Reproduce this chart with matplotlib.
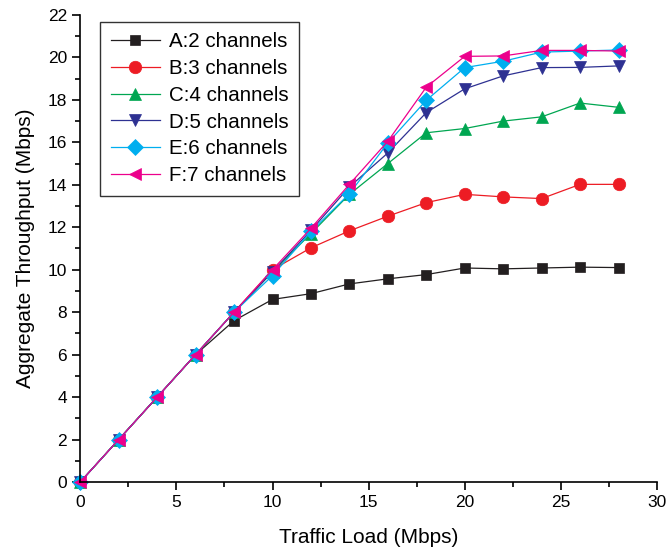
import matplotlib
matplotlib.use("Agg")
import matplotlib.pyplot as plt
from matplotlib.ticker import MultipleLocator

plt.rcParams['font.family'] = ['Liberation Sans', 'DejaVu Sans']

load = [0, 2, 4, 6, 8, 10, 12, 14, 16, 18, 20, 22, 24, 26, 28]
A = [0, 2, 4, 6, 7.6, 8.6, 8.87, 9.33, 9.57, 9.77, 10.08, 10.04, 10.08, 10.12, 10.1]
B = [0, 2, 4, 6, 8, 10.0, 11.03, 11.83, 12.52, 13.16, 13.55, 13.43, 13.35, 14.02, 14.02]
C = [0, 2, 4, 6, 8, 9.9, 11.7, 13.55, 15.0, 16.45, 16.65, 17.0, 17.2, 17.85, 17.65]
D = [0, 2, 4, 6, 8, 9.9, 11.85, 13.9, 15.5, 17.4, 18.52, 19.13, 19.52, 19.53, 19.6]
E = [0, 2, 4, 6, 8, 9.72, 11.8, 13.58, 15.97, 17.98, 19.52, 19.82, 20.25, 20.3, 20.35]
F = [0, 2, 4, 6, 8, 10.0, 11.95, 14.02, 16.05, 18.6, 20.05, 20.07, 20.33, 20.33, 20.3]

labels = ['A:2 channels', 'B:3 channels', 'C:4 channels', 'D:5 channels', 'E:6 channels', 'F:7 channels']
series = [A, B, C, D, E, F]
colors = ['#231f20', '#ed1c24', '#00a651', '#2e3192', '#00aeef', '#ec008c']
markers = ['s', 'o', '^', 'v', 'D', '<']
msizes = [7, 9, 9, 9, 8, 9]

fig = plt.figure(figsize=(6.69, 5.54), dpi=100)
ax = fig.add_axes([0.12, 0.13, 0.862, 0.843])

for y, lab, c, m, ms in zip(series, labels, colors, markers, msizes):
    ax.plot(load, y, color=c, lw=0.9, marker=m, markersize=ms, markerfacecolor=c,
            markeredgecolor=c, markeredgewidth=0.5, label=lab, clip_on=False)

ax.set_xlim(0, 30)
ax.set_ylim(0, 22)
ax.xaxis.set_major_locator(MultipleLocator(5))
ax.xaxis.set_minor_locator(MultipleLocator(2.5))
ax.yaxis.set_major_locator(MultipleLocator(2))
ax.yaxis.set_minor_locator(MultipleLocator(1))
ax.tick_params(which='major', direction='out', length=6, width=1.2, labelsize=12.5)
ax.tick_params(which='minor', direction='out', length=3.5, width=1.2)
for s in ['top', 'right']:
    ax.spines[s].set_visible(False)
for s in ['left', 'bottom']:
    ax.spines[s].set_linewidth(1.2)

ax.set_xlabel('Traffic Load (Mbps)', fontsize=15, labelpad=13)
ax.set_ylabel('Aggregate Throughput (Mbps)', fontsize=15, labelpad=9)

leg = ax.legend(loc='upper left', bbox_to_anchor=(0.035, 0.985), borderaxespad=0,
                fontsize=14.8, frameon=True, fancybox=False, edgecolor='black',
                handlelength=2.4, borderpad=0.5, labelspacing=0.38, handletextpad=0.45)
leg.get_frame().set_linewidth(1.0)

fig.savefig('out.png', dpi=100)
